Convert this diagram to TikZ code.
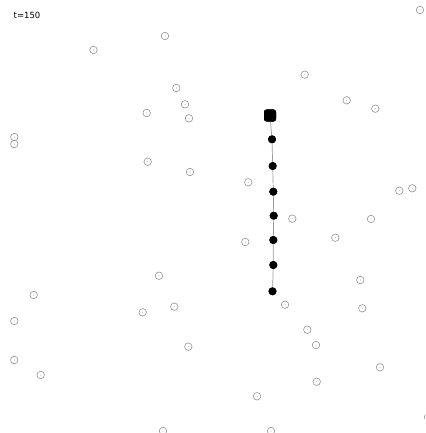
\documentclass[tikz,border=0pt]{standalone}
\usepackage{fontspec}
\setmainfont{DejaVu Sans}
\begin{document}
\begin{tikzpicture}[x=1pt,y=-1pt,
  free/.style={circle,draw=gray!90,line width=0.55pt,fill=white,minimum size=7.5pt,inner sep=0pt,
    path picture={\fill[gray!70] (path picture bounding box.center) circle (0.5pt);}},
  bead/.style={circle,fill=black,minimum size=8pt,inner sep=0pt},
  headbox/.style={rectangle,rounded corners=2.5pt,fill=black,minimum size=12pt,inner sep=0pt},
  link/.style={draw=gray!80,line width=0.7pt}]
\useasboundingbox[fill=white] (0,0) rectangle (425,433);
\begin{scope}
\clip (0,0) rectangle (425,433);
\node[anchor=west,inner sep=0pt,font=\fontsize{8.5}{10}\selectfont] (lbl) at (13.5,15.5) {t=150};
\foreach \px/\py [count=\i] in {420/10,93.5/50,165/36,304.7/74.7,176.3/88,185/104.3,146.7/113,189/118.3,
  346.7/100.3,375.3/108.7,14.3/137,14.3/144,147.7/161.7,190/172,248.3/182.3,399.3/190.7,412.3/188.3,
  292.3/218.7,371/219,335.3/237.7,245.3/242,159/275.7,360.3/280,33.7/295,142.7/312.3,174.3/306.7,
  285/304.7,362.3/308.3,14.3/321,307.3/329.7,316/345,188.3/346.7,14.3/360,40.7/375,380/367.3,
  316.7/381.7,257/396.3,163/431,271/431,428/417}
  \node[free] (f\i) at (\px,\py) {};
\node[headbox] (h) at (270,115.5) {};
\node[bead] (b1) at (272,139.3) {};
\node[bead] (b2) at (272.7,166) {};
\node[bead] (b3) at (273.3,191.7) {};
\node[bead] (b4) at (273.7,215.7) {};
\node[bead] (b5) at (273.3,240) {};
\node[bead] (b6) at (273.3,265) {};
\node[bead] (b7) at (272.5,291.3) {};
\path[link] (h.center) -- (b1.center) -- (b2.center) -- (b3.center) -- (b4.center) -- (b5.center) -- (b6.center) -- (b7.center);
\node[headbox] at (h) {};
\foreach \b in {b1,b2,b3,b4,b5,b6,b7} \node[bead] at (\b) {};
\end{scope}
\end{tikzpicture}
\end{document}
